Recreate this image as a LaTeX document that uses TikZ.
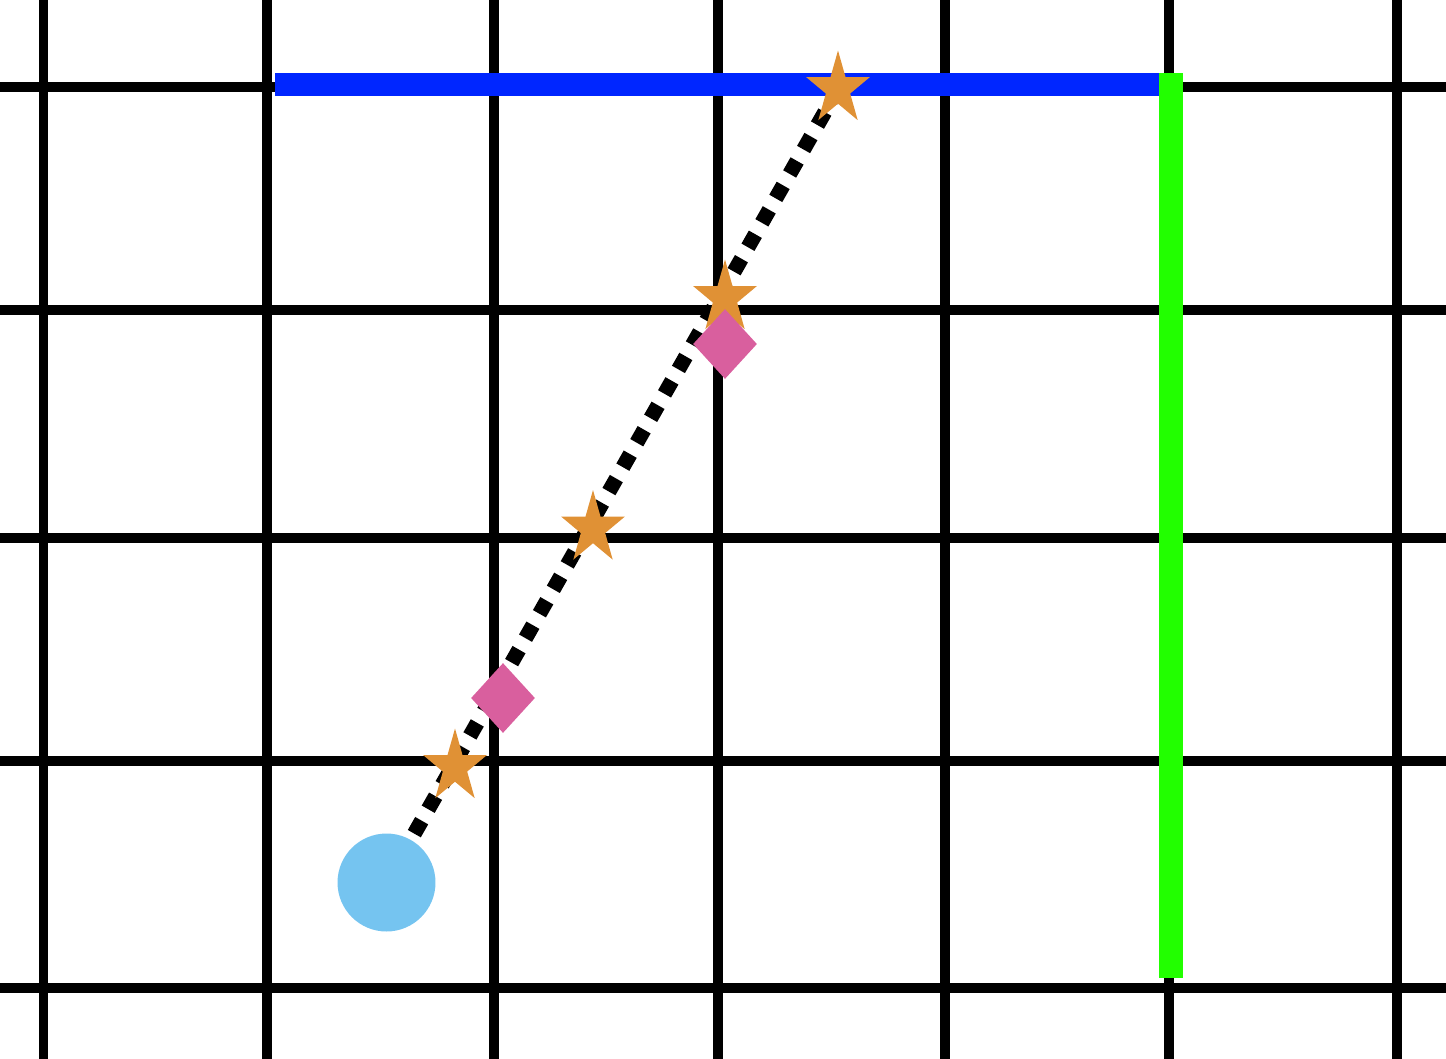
\documentclass[tikz,border=0pt]{standalone}
\usepackage{tikz}
\usetikzlibrary{shapes.geometric, positioning}
\definecolor{GridBlack}{RGB}{0,0,0}
\definecolor{WallBlue}{RGB}{0,38,255}
\definecolor{WallGreen}{RGB}{34,255,0}
\definecolor{StarOrange}{RGB}{224,145,53}
\definecolor{GemPink}{RGB}{217,95,158}
\definecolor{DotBlue}{RGB}{117,196,240}
\pgfdeclarelayer{front}
\pgfsetlayers{main,front}
\tikzset{
  gridline/.style={draw=GridBlack, line width=5.6pt},
  wall/.style={line width=13.2pt},
  starmark/.style={star, star points=5, star point ratio=2.618, fill=StarOrange,
                   minimum size=1.54cm, inner sep=0pt, xscale=0.87},
  gemmark/.style={diamond, fill=GemPink, minimum width=1.28cm,
                  minimum height=1.4cm, inner sep=0pt},
  startdot/.style={circle, fill=DotBlue, minimum size=1.96cm, inner sep=0pt},
  pathline/.style={draw=black, line width=8.5pt, dash pattern=on 8.5pt off 7.5pt}
}
\begin{document}
\begin{tikzpicture}[x=0.02cm, y=-0.02cm]
  \useasboundingbox (0,0) rectangle (1446,1058);
  % grid
  \foreach \gx in {43.5,267,494,718,945,1169,1397}
    \draw[gridline] (\gx,-10) -- (\gx,1068);
  \foreach \gy in {87,310,538,761,988}
    \draw[gridline] (-10,\gy) -- (1456,\gy);
  % walls
  \draw[wall, WallBlue] (275,84.5) -- (1165,84.5);
  \draw[wall, WallGreen] (1171,73) -- (1171,978);
  % markers
  \begin{pgfonlayer}{front}
    \node[startdot] (dot) at (386.5,882.5) {};
    \node[starmark] (s1) at (838,89) {};
    \node[starmark] (s2) at (725,298) {};
    \node[starmark] (s3) at (593,528.5) {};
    \node[starmark] (s4) at (455,767) {};
    \node[gemmark] (g1) at (725,344) {};
    \node[gemmark] (g2) at (503,698) {};
  \end{pgfonlayer}
  % route
  \draw[pathline] (dot.center) -- (s1.center);
\end{tikzpicture}
\end{document}
